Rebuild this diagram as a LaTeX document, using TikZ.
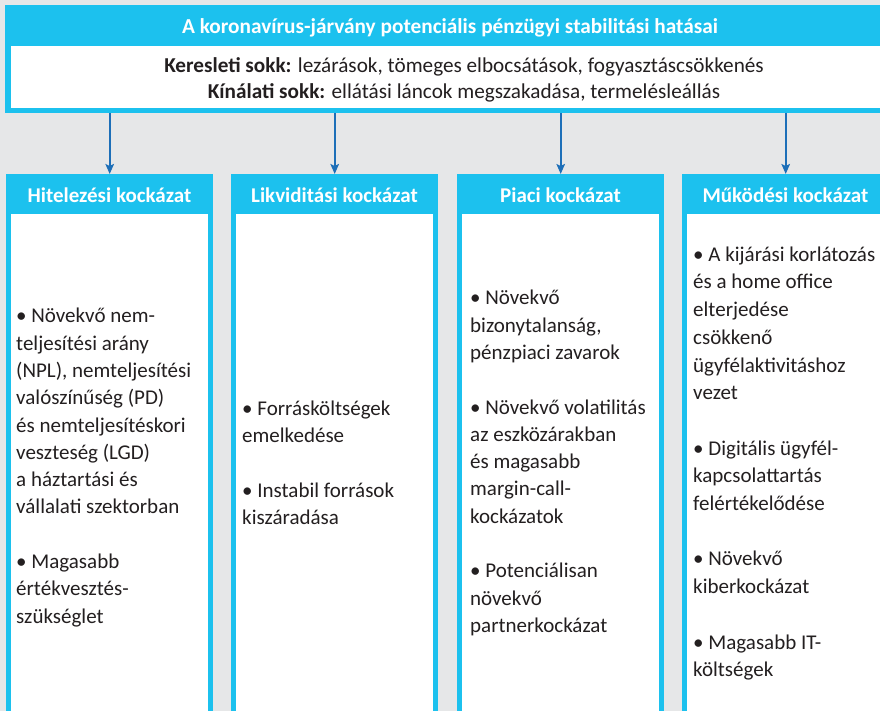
\documentclass[tikz,border=0pt]{standalone}
\usepackage{fontspec}
\setmainfont{Carlito}
\usetikzlibrary{arrows.meta,calc}
\definecolor{cy}{HTML}{1CC1EE}
\definecolor{bgc}{HTML}{E6E7E8}
\definecolor{arrc}{HTML}{1D6FB8}
\definecolor{ink}{HTML}{231F20}
\tikzset{
  cyanbox/.style={fill=cy, draw=none, inner sep=0pt, rectangle},
  whitebox/.style={fill=white, draw=none, inner sep=0pt, rectangle},
  titletext/.style={text=white, font=\fontsize{21.3}{26}\selectfont\bfseries, inner sep=0pt},
  subtext/.style={text=ink, align=center, font=\fontsize{21.2}{26}\selectfont, inner sep=0pt},
  headtext/.style={text=white, font=\fontsize{21}{26}\selectfont\bfseries, inner sep=0pt},
  bodytext/.style={text=ink, align=left, anchor=west, font=\fontsize{21}{27.3}\selectfont, inner sep=0pt},
  arrowline/.style={draw=arrc, line width=2pt, -{Stealth[length=10pt,width=8.5pt,inset=2pt]}},
}
\begin{document}
\begin{tikzpicture}[x=1pt,y=-1pt]
\useasboundingbox (0,0) rectangle (880,711);
\fill[bgc] (0,0) rectangle (880,711);

% top box
\node[cyanbox, minimum width=885pt, minimum height=108pt] (topbox) at (447.5,59) {};
\node[whitebox, minimum width=879pt, minimum height=62pt] (topin) at (450.5,77) {};
\node[titletext] (title) at (450,27.5) {A koronavírus-járvány potenciális pénzügyi stabilitási hatásai};
\node[subtext] (sub) at (464,79.5) {\textbf{Keresleti sokk:} lezárások, tömeges elbocsátások, fogyasztáscsökkenés\\\textbf{Kínálati sokk:} ellátási láncok megszakadása, termelésleállás};

% column 1
\node[cyanbox, minimum width=207pt, minimum height=546pt, anchor=north west] (c1) at (6,174) {};
\node[headtext] (h1) at (109.5,195) {Hitelezési kockázat};
\node[whitebox, minimum width=197pt, minimum height=510pt, anchor=north west] (b1) at (11,214) {};
\node[bodytext] (t1) at (16,467.5) {• Növekvő nem-\\teljesítési arány\\(NPL), nemteljesítési\\valószínűség (PD)\\és nemteljesítéskori\\veszteség (LGD)\\a háztartási és\\vállalati szektorban\\[27.3pt]• Magasabb\\értékvesztés-\\szükséglet};

% column 2
\node[cyanbox, minimum width=207pt, minimum height=546pt, anchor=north west] (c2) at (231,174) {};
\node[headtext] (h2) at (334.5,195) {Likviditási kockázat};
\node[whitebox, minimum width=197pt, minimum height=510pt, anchor=north west] (b2) at (236,214) {};
\node[bodytext] (t2) at (242,463) {• Forrásköltségek\\emelkedése\\[27.3pt]• Instabil források\\kiszáradása};

% column 3
\node[cyanbox, minimum width=207pt, minimum height=546pt, anchor=north west] (c3) at (457,174) {};
\node[headtext] (h3) at (560.5,195) {Piaci kockázat};
\node[whitebox, minimum width=197pt, minimum height=510pt, anchor=north west] (b3) at (462,214) {};
\node[bodytext] (t3) at (470,463) {• Növekvő\\bizonytalanság,\\pénzpiaci zavarok\\[27.3pt]• Növekvő volatilitás\\az eszközárakban\\és magasabb\\margin-call-\\kockázatok\\[27.3pt]• Potenciálisan\\növekvő\\partnerkockázat};

% column 4
\node[cyanbox, minimum width=207pt, minimum height=546pt, anchor=north west] (c4) at (682,174) {};
\node[headtext] (h4) at (785.5,195) {Működési kockázat};
\node[whitebox, minimum width=197pt, minimum height=510pt, anchor=north west] (b4) at (687,214) {};
\node[bodytext, font=\fontsize{21}{27.7}\selectfont] (t4) at (693,463.5) {• A kijárási korlátozás\\és a home office\\elterjedése\\csökkenő\\ügyfélaktivitáshoz\\vezet\\[27.7pt]• Digitális ügyfél-\\kapcsolattartás\\felértékelődése\\[27.7pt]• Növekvő\\kiberkockázat\\[27.7pt]• Magasabb IT-\\költségek};

% arrows
\foreach \c in {c1,c2,c3,c4}
  \draw[arrowline] (\c.north |- topbox.south) -- (\c.north);
\end{tikzpicture}
\end{document}
